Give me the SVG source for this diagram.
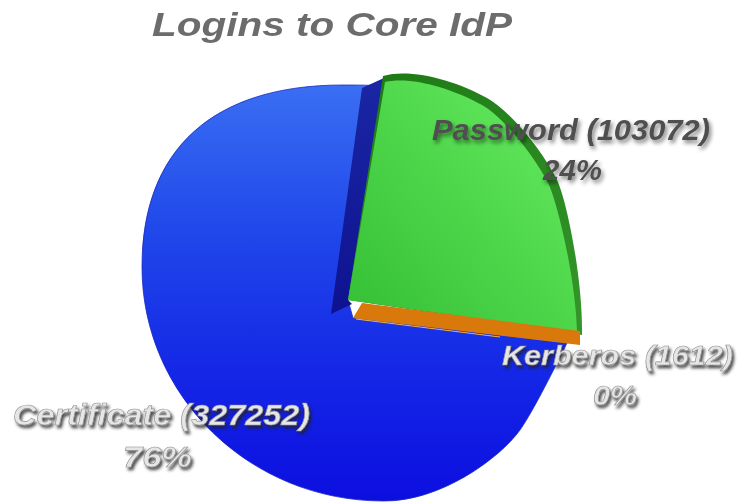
<svg xmlns="http://www.w3.org/2000/svg" width="742" height="502" viewBox="0 0 742 502">
  <defs>
    <linearGradient id="blueFace" x1="0" y1="85" x2="0" y2="501" gradientUnits="userSpaceOnUse">
      <stop offset="0" stop-color="#3a6ef3"/>
      <stop offset="0.35" stop-color="#2048ea"/>
      <stop offset="0.7" stop-color="#1426e6"/>
      <stop offset="1" stop-color="#0c0ee0"/>
    </linearGradient>
    <linearGradient id="blueWall" x1="0" y1="80" x2="0" y2="314" gradientUnits="userSpaceOnUse">
      <stop offset="0" stop-color="#1a26a4"/>
      <stop offset="1" stop-color="#0e1290"/>
    </linearGradient>
    <linearGradient id="greenFace" x1="560" y1="120" x2="360" y2="300" gradientUnits="userSpaceOnUse">
      <stop offset="0" stop-color="#62e85c"/>
      <stop offset="1" stop-color="#38c238"/>
    </linearGradient>
    <linearGradient id="greenRim" x1="383" y1="76" x2="582" y2="335" gradientUnits="userSpaceOnUse">
      <stop offset="0" stop-color="#1f7a16"/>
      <stop offset="1" stop-color="#34962a"/>
    </linearGradient>
    <filter id="darkShadow" x="-10%" y="-30%" width="120%" height="170%">
      <feGaussianBlur in="SourceAlpha" stdDeviation="2"/>
      <feOffset dx="2" dy="3" result="b"/>
      <feFlood flood-color="#000" flood-opacity="0.5"/>
      <feComposite in2="b" operator="in"/>
      <feMerge><feMergeNode/><feMergeNode in="SourceGraphic"/></feMerge>
    </filter>
    <filter id="lightShadow" x="-10%" y="-30%" width="120%" height="170%">
      <feGaussianBlur in="SourceAlpha" stdDeviation="1.8"/>
      <feOffset dx="1.5" dy="2.5" result="b"/>
      <feFlood flood-color="#222" flood-opacity="0.8"/>
      <feComposite in2="b" operator="in"/>
      <feMerge><feMergeNode/><feMergeNode in="SourceGraphic"/></feMerge>
    </filter>
    <filter id="soft" x="-5%" y="-30%" width="110%" height="160%">
      <feGaussianBlur stdDeviation="0.5"/>
    </filter>
  </defs>
  <style>
    text { font-family: "Liberation Sans", Arial, sans-serif; font-weight: bold; font-style: italic; }
    .title { font-size: 33px; fill: #6c6c6c; }
    .dark { font-size: 29px; fill: #505050; }
    .light { font-size: 29px; fill: #e6e6e6; stroke: #8e8e8e; stroke-width: 0.6; }
  </style>

  <rect width="742" height="502" fill="#ffffff"/>

  <text class="title" x="152" y="36" textLength="360" lengthAdjust="spacingAndGlyphs" filter="url(#soft)">Logins to Core IdP</text>

  <!-- Certificate slice (76%) -->
  <g id="slice-certificate">
    <path d="M 383,86 C 370,85 356,85 343,85 C 213,85 142,149 142,267 C 142,396 250,501 383,501 C 440,502 500,458 520,430 C 534,410 556,365 567,343 L 353,318 L 348,300 Z" fill="url(#blueFace)" stroke="#1a2cc0" stroke-width="0.8"/>
    <polygon points="362,88 384,78 348,300 352,304 331,314" fill="url(#blueWall)"/>
  </g>

  <!-- Password slice (24%) -->
  <g id="slice-password">
    <path d="M 348,300 L 383,76 C 410,68 455,80 487,98 C 512,112 545,155 557,180 C 567,201 583,280 582,335 Z" fill="url(#greenRim)"/>
    <path d="M 348,300 L 385,82 C 410,76 452,88 482,105 C 505,118 537,160 549,185 C 558,205 576,280 577,333 Z" fill="url(#greenFace)"/>
  </g>

  <!-- Kerberos slice (0%) -->
  <g id="slice-kerberos">
    <polygon points="362,303 580,331 580,345 353,318" fill="#d9790b"/>
    <line x1="356" y1="319" x2="500" y2="337" stroke="#f4b33c" stroke-width="1.2"/>
  </g>

  <g id="label-password" filter="url(#darkShadow)">
    <text class="dark" x="432" y="140" textLength="278" lengthAdjust="spacingAndGlyphs">Password (103072)</text>
    <text class="dark" x="543" y="180" textLength="59" lengthAdjust="spacingAndGlyphs">24%</text>
  </g>
  <g id="label-kerberos" filter="url(#lightShadow)">
    <text class="light" style="font-size:28px" x="502" y="365" textLength="231" lengthAdjust="spacingAndGlyphs">Kerberos (1612)</text>
    <text class="light" style="font-size:28px" x="593" y="405" textLength="44" lengthAdjust="spacingAndGlyphs">0%</text>
  </g>
  <g id="label-certificate" filter="url(#lightShadow)">
    <text class="light" style="font-size:30px" x="13" y="425" textLength="297" lengthAdjust="spacingAndGlyphs">Certificate (327252)</text>
    <text class="light" style="font-size:30px" x="123" y="467" textLength="69" lengthAdjust="spacingAndGlyphs">76%</text>
  </g>
</svg>
